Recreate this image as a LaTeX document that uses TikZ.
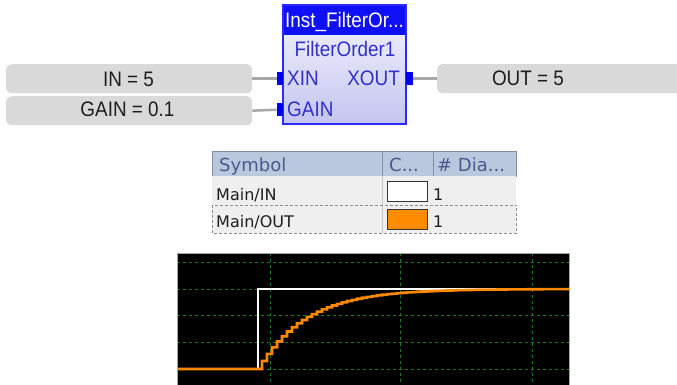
\documentclass[tikz,border=0pt]{standalone}
\usepackage{fontspec}
\setmainfont{Liberation Sans}
\newfontfamily\blkfont[FakeStretch=0.9]{Liberation Sans}
\newfontfamily\tblfont{DejaVu Sans}
\definecolor{boxgray}{HTML}{D9D9D9}
\definecolor{txtdark}{HTML}{1E1E1E}
\definecolor{wiregray}{HTML}{A8A8A8}
\definecolor{pinblue}{HTML}{0000F0}
\definecolor{hdrblue}{HTML}{1010F8}
\definecolor{blkborder}{HTML}{2A2AFF}
\definecolor{blktext}{HTML}{3030C8}
\definecolor{bodytop}{HTML}{F6F6FF}
\definecolor{bodybot}{HTML}{C4C4F0}
\definecolor{tblhdr}{HTML}{B9C8DC}
\definecolor{tblhdrline}{HTML}{8090AA}
\definecolor{tblhdrtxt}{HTML}{4A5A90}
\definecolor{tblrow}{HTML}{EFEFEF}
\definecolor{tblline}{HTML}{C8C8C8}
\definecolor{swatchorange}{HTML}{FF8C00}
\definecolor{gridgreen}{HTML}{1E7A1E}
\definecolor{traceorange}{HTML}{FF8A00}
\begin{document}
\begin{tikzpicture}[x=1pt,y=-1pt,
  valbox/.style={fill=boxgray, rounded corners=5pt, inner sep=0pt, anchor=north west},
  valtext/.style={font=\blkfont\fontsize{21}{21}\selectfont, text=txtdark, anchor=base, inner sep=0pt},
  pinbox/.style={fill=pinblue, inner sep=0pt, minimum width=6pt, minimum height=13pt},
  wire/.style={draw=wiregray, line width=2.5pt},
  blklabel/.style={font=\blkfont\fontsize{21}{21}\selectfont, text=blktext, inner sep=0pt},
  tblhead/.style={font=\tblfont\fontsize{18}{18}\selectfont, text=tblhdrtxt, inner sep=0pt, anchor=base west},
  tbltext/.style={font=\tblfont\fontsize{16}{16}\selectfont, text=txtdark, inner sep=0pt, anchor=base west},
  swatch/.style={draw=black!80, line width=0.8pt, inner sep=0pt, minimum width=40pt, minimum height=20pt, anchor=north west},
  gridline/.style={draw=gridgreen, line width=0.9pt, dash pattern=on 3pt off 3pt},
]
\useasboundingbox (0,0) rectangle (677,385);

% value boxes
\node[valbox, minimum width=246pt, minimum height=29pt] (inbox) at (6,64) {};
\node[valbox, minimum width=246pt, minimum height=29pt] (gainbox) at (6,96) {};
\node[valbox, minimum width=250pt, minimum height=29pt] (outbox) at (437,64) {};
\node[valtext] (intxt) at (128.5,87) {IN = 5};
\node[valtext] (gaintxt) at (127.5,117) {GAIN = 0.1};
\node[valtext] (outtxt) at (528,86) {OUT = 5};

% function block
\node[top color=bodytop, bottom color=bodybot, minimum width=123pt, minimum height=119pt, inner sep=0pt, anchor=north west] (blk) at (283,5) {};
\node[fill=hdrblue, minimum width=123pt, minimum height=30pt, inner sep=0pt, anchor=north west] (hdr) at (283,5) {};
\draw[blkborder, line width=2pt] (blk.north west) rectangle (blk.south east);
\node[font=\blkfont\fontsize{21}{21}\selectfont, text=white, anchor=base, inner sep=0pt] (hdrtxt) at (344.5,28) {Inst\_FilterOr...};
\node[blklabel, anchor=base] (fbname) at (345,57) {FilterOrder1};
\node[blklabel, anchor=base west] (xin) at (287,86) {XIN};
\node[blklabel, anchor=base west] (gain) at (287,117) {GAIN};
\node[blklabel, anchor=base east] (xout) at (400,86) {XOUT};

% pins
\node[pinbox, anchor=north east] (pxin) at (283,72) {};
\node[pinbox, anchor=north east] (pgain) at (283,103) {};
\node[pinbox, anchor=north west, minimum width=7pt] (pxout) at (406,72) {};

% wires
\draw[wire] (inbox.east) -- (pxin.west);
\draw[wire] (gainbox.east) -- (pgain.west);
\draw[wire] (pxout.east) -- (outbox.west);

% table
\node[fill=tblhdr, draw=tblhdrline, line width=0.8pt, minimum width=304pt, minimum height=25pt, inner sep=0pt, anchor=north west] (thead) at (212,151) {};
\draw[tblhdrline, line width=0.8pt] (382,151) -- (382,176);
\draw[tblhdrline, line width=0.8pt] (433,151) -- (433,176);
\node[tblhead] (hsym) at (219,171) {Symbol};
\node[tblhead] (hcol) at (389,171) {C...};
\node[tblhead] (hdia) at (437,171) {\# Dia...};
\node[fill=tblrow, minimum width=304pt, minimum height=29pt, inner sep=0pt, anchor=north west] (row1) at (212,176) {};
\node[fill=tblrow, minimum width=304pt, minimum height=28pt, inner sep=0pt, anchor=north west] (row2) at (212,205) {};
\draw[tblline, line width=0.6pt] (382,176) -- (382,233);
\draw[black!45, line width=0.8pt, dash pattern=on 3pt off 2pt] (row2.north west) rectangle (row2.south east);
\node[tbltext] (r1sym) at (216,200) {Main/IN};
\node[tbltext] (r2sym) at (216,227) {Main/OUT};
\node[swatch, fill=white] (sw1) at (387,181) {};
\node[swatch, fill=swatchorange] (sw2) at (387,209) {};
\node[tbltext] (r1n) at (433,200) {1};
\node[tbltext] (r2n) at (433,227) {1};

% chart
\fill[black] (177,253) rectangle (569,386);
\foreach \yy in {262.5,289,315.7,342.3,369} {
  \draw[gridline] (177,\yy) -- (569,\yy);
}
\foreach \xx in {270,400,532} {
  \draw[gridline] (\xx,253) -- (\xx,386);
}
\draw[white, line width=2pt] (177,369) -- (258,369) -- (258,289) -- (512,289);
\draw[traceorange, line width=2.6pt, line join=miter]
  (177,369) -- (262,369) -- plot[const plot, domain=262:567, samples=62] (\x,{369-80*(1-0.9^((\x-257)/5))}) -- (569,289);
\draw[gray!70, line width=0.6pt] (177,386) -- (177,253) -- (569,253) -- (569,386);
\end{tikzpicture}
\end{document}
